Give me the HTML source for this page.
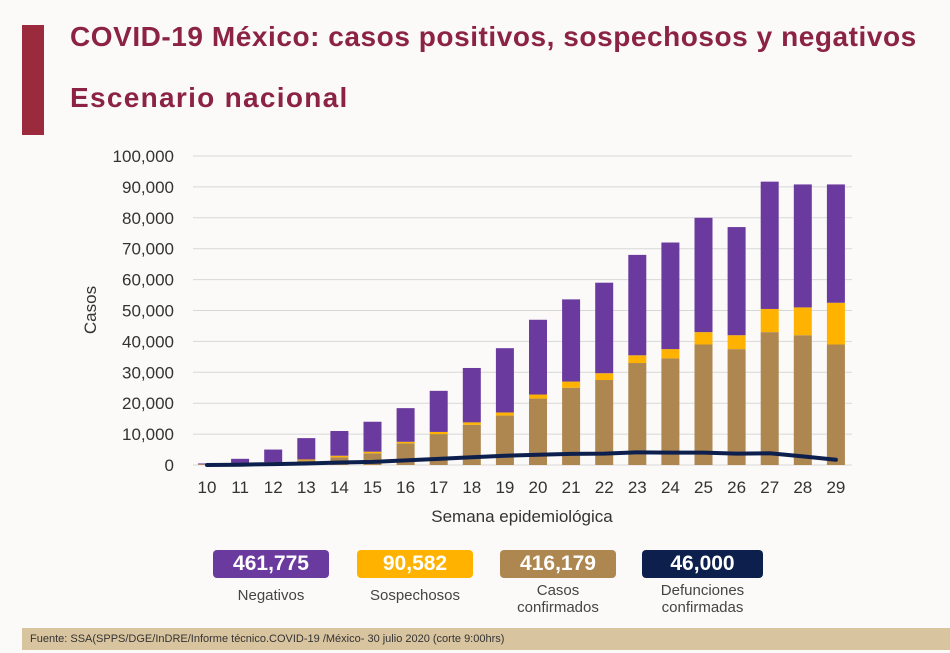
<!DOCTYPE html>
<html><head><meta charset="utf-8"><style>
body{margin:0;width:950px;height:653px;overflow:hidden;background:#fbfaf8;font-family:"Liberation Sans",sans-serif;position:relative}
.t{position:absolute;color:#8c2344;font-weight:bold;white-space:nowrap}
.box{position:absolute;top:550px;height:28px;border-radius:4px;color:#fff;font-weight:bold;font-size:21px;text-align:center;line-height:28px}
.lab{position:absolute;top:587px;font-size:15px;color:#444;text-align:center;line-height:17px}
</style></head><body>
<div style="position:absolute;left:22px;top:25px;width:22px;height:110px;background:#9b2a3c"></div>
<div class="t" style="left:70px;top:21px;font-size:28px;letter-spacing:0.55px">COVID-19 México: casos positivos, sospechosos y negativos</div>
<div class="t" style="left:70px;top:82px;font-size:28px;letter-spacing:1.3px">Escenario nacional</div>
<svg id="chart" width="950" height="653" style="position:absolute;left:0;top:0"></svg>
<div class="box" style="left:213px;width:116px;background:#6a3a9e">461,775</div>
<div class="box" style="left:357px;width:116px;background:#ffb300">90,582</div>
<div class="box" style="left:500px;width:116px;background:#ad8650">416,179</div>
<div class="box" style="left:642px;width:121px;background:#0d1f4c">46,000</div>
<div class="lab" style="left:213px;width:116px">Negativos</div>
<div class="lab" style="left:357px;width:116px">Sospechosos</div>
<div class="lab" style="left:500px;width:116px;top:582px">Casos<br>confirmados</div>
<div class="lab" style="left:642px;width:121px;top:582px">Defunciones<br>confirmadas</div>
<div style="position:absolute;left:22px;top:628px;width:928px;height:22px;background:#d9c4a0;font-size:11px;color:#333;line-height:22px;padding-left:8px">Fuente: SSA(SPPS/DGE/InDRE/Informe técnico.COVID-19 /México- 30 julio 2020 (corte 9:00hrs)</div>
<script>
const weeks=[10,11,12,13,14,15,16,17,18,19,20,21,22,23,24,25,26,27,28,29];
const confirmed=[0.1,0.3,0.7,1.5,2.5,3.8,7,10,13,16,21.5,25,27.5,33,34.5,39,37.5,43,42,39];
const suspected=[0.1,0.1,0.2,0.3,0.5,0.5,0.5,0.7,0.8,1.0,1.3,2,2.2,2.5,3,4,4.5,7.5,9,13.5];
const negatives=[0.3,1.6,4.1,6.9,8,9.7,10.9,13.3,17.6,20.8,24.2,26.6,29.3,32.5,34.5,37,35,41.2,39.8,38.3];
const deaths=[0,0.1,0.3,0.5,0.8,1,1.5,2,2.5,3,3.3,3.6,3.7,4.1,4.0,4.0,3.7,3.8,2.8,1.7];
const yTicks=[0,10,20,30,40,50,60,70,80,90,100];
const yTickLabels=["0","10,000","20,000","30,000","40,000","50,000","60,000","70,000","80,000","90,000","100,000"];
const NS="http://www.w3.org/2000/svg",svg=document.getElementById('chart');
const y=v=>465-v*3.09, x=i=>207+i*33.1;
function mk(t,a,txt){const e=document.createElementNS(NS,t);for(const k in a)e.setAttribute(k,a[k]);if(txt!=null)e.textContent=txt;svg.appendChild(e);return e;}
yTicks.forEach((v,i)=>{
 const g=mk('line',{x1:193,x2:852,y1:y(v),y2:y(v),stroke:'#d8d8d8','stroke-width':1});
 
 
 const t=mk('text',{x:174,y:y(v)+6,'text-anchor':'end','font-size':17,fill:'#333','font-family':'Liberation Sans'},yTickLabels[i]);
 
 
});
weeks.forEach((w,i)=>{
 const bw=18,cx=x(i);
 const segs=[[confirmed[i],'#ad8650','bar-confirmed'],[suspected[i],'#ffb300','bar-suspected'],[negatives[i],'#6a3a9e','bar-negative']];
 let base=0;
 segs.forEach(s=>{
  const r=mk('rect',{x:cx-bw/2,y:y(base+s[0]),width:bw,height:s[0]*3.09,fill:s[1]});
  
  
  base+=s[0];
 });
 const t=mk('text',{x:cx,y:493,'text-anchor':'middle','font-size':17,fill:'#333','font-family':'Liberation Sans'},String(w));
 
 
});
const p=mk('polyline',{points:deaths.map((d,i)=>x(i)+','+y(d)).join(' '),fill:'none',stroke:'#0d1f4c','stroke-width':4,'stroke-linejoin':'round','stroke-linecap':'round'});


const xt=mk('text',{x:522,y:522,'text-anchor':'middle','font-size':17,fill:'#333','font-family':'Liberation Sans'},'Semana epidemiológica');


const yt=mk('text',{x:96,y:310,'text-anchor':'middle','font-size':17,fill:'#333','font-family':'Liberation Sans',transform:'rotate(-90 96 310)'},'Casos');


</script>
</body></html>
